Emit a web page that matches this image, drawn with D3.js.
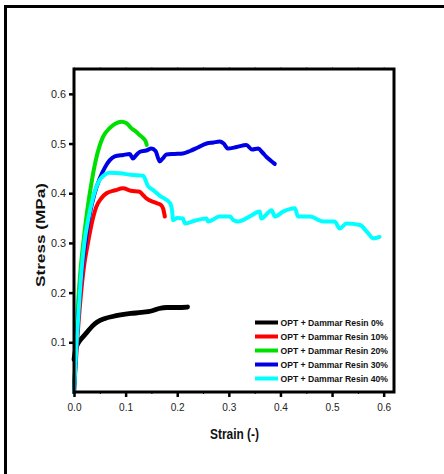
<!DOCTYPE html>
<html>
<head>
<meta charset="utf-8">
<script src="https://cdn.jsdelivr.net/npm/d3@7"></script>
<style>
  body { margin: 0; background: #fff; }
  svg { display: block; }
</style>
</head>
<body>
<div id="chart"></div>
<script>
// series names (legend order)
var seriesNames = ["OPT + Dammar Resin 0%", "OPT + Dammar Resin 10%", "OPT + Dammar Resin 20%",
  "OPT + Dammar Resin 30%", "OPT + Dammar Resin 40%"];
var seriesColors = ["#000000", "#ff0000", "#00e000", "#0000e6", "#00ffff"];

// [strain, stress] pairs
var resin0 = [[0, 0.065], [0.003, 0.085], [0.008, 0.098], [0.015, 0.108], [0.025, 0.12], [0.035, 0.132],
  [0.045, 0.141], [0.06, 0.148], [0.075, 0.152], [0.09, 0.155], [0.11, 0.158], [0.13, 0.16],
  [0.15, 0.163], [0.165, 0.168], [0.18, 0.17], [0.2, 0.17], [0.22, 0.171]];
var resin10 = [[0, 0], [0.006, 0.1], [0.012, 0.18], [0.019, 0.25], [0.027, 0.3], [0.035, 0.342],
  [0.043, 0.372], [0.053, 0.39], [0.063, 0.4], [0.08, 0.406], [0.095, 0.41], [0.11, 0.405],
  [0.127, 0.403], [0.135, 0.395], [0.14, 0.39], [0.155, 0.382], [0.16, 0.38], [0.169, 0.376],
  [0.173, 0.368], [0.176, 0.353]];
var resin20 = [[0, 0], [0.004, 0.1], [0.008, 0.18], [0.013, 0.25], [0.018, 0.3], [0.025, 0.36],
  [0.034, 0.422], [0.043, 0.47], [0.056, 0.513], [0.069, 0.531], [0.08, 0.54], [0.092, 0.544],
  [0.102, 0.541], [0.111, 0.531], [0.12, 0.524], [0.127, 0.517], [0.134, 0.511], [0.139, 0.504],
  [0.141, 0.497]];
var resin30 = [[0, 0], [0.005, 0.1], [0.01, 0.18], [0.016, 0.25], [0.022, 0.3], [0.03, 0.355],
  [0.04, 0.4], [0.05, 0.43], [0.06, 0.452], [0.069, 0.466], [0.079, 0.474], [0.095, 0.477],
  [0.108, 0.479], [0.114, 0.47], [0.12, 0.476], [0.127, 0.483], [0.14, 0.486], [0.15, 0.49],
  [0.158, 0.485], [0.166, 0.464], [0.172, 0.47], [0.179, 0.478], [0.195, 0.479], [0.211, 0.48],
  [0.225, 0.485], [0.24, 0.492], [0.257, 0.5], [0.27, 0.502], [0.282, 0.504], [0.29, 0.5],
  [0.298, 0.49], [0.315, 0.493], [0.334, 0.497], [0.345, 0.488], [0.357, 0.49], [0.365, 0.482],
  [0.373, 0.473], [0.382, 0.465], [0.389, 0.459]];
var resin40 = [[0, 0], [0.005, 0.1], [0.01, 0.18], [0.015, 0.25], [0.02, 0.3], [0.028, 0.35],
  [0.036, 0.388], [0.043, 0.412], [0.05, 0.427], [0.058, 0.436], [0.069, 0.441], [0.09, 0.44],
  [0.11, 0.437], [0.134, 0.435], [0.143, 0.415], [0.155, 0.405], [0.166, 0.395], [0.186, 0.38],
  [0.19, 0.365], [0.192, 0.346], [0.2, 0.35], [0.211, 0.349], [0.215, 0.339], [0.235, 0.345],
  [0.257, 0.349], [0.26, 0.343], [0.282, 0.353], [0.302, 0.353], [0.31, 0.345], [0.318, 0.343],
  [0.34, 0.353], [0.36, 0.363], [0.363, 0.349], [0.383, 0.366], [0.389, 0.353], [0.405, 0.363],
  [0.428, 0.37], [0.434, 0.353], [0.457, 0.353], [0.483, 0.343], [0.505, 0.343], [0.515, 0.329],
  [0.528, 0.339], [0.554, 0.336], [0.568, 0.322], [0.58, 0.309], [0.592, 0.312]];
var allSeries = [resin0, resin10, resin20, resin30, resin40];

var xTicks = [0, 0.1, 0.2, 0.3, 0.4, 0.5, 0.6];
var yTicks = [0.1, 0.2, 0.3, 0.4, 0.5, 0.6];
var minorTicks = [0.05, 0.15, 0.25, 0.35, 0.45, 0.55];

var W = 444, H = 474;
var plotL = 74, plotR = 394, plotT = 69, plotB = 392;

var svg = d3.select("#chart").append("svg")
  .attr("width", W)
  .attr("height", H);

// outer frame (only top and left visible)
svg.append("rect")
  .attr("x", 5.5).attr("y", 6.5)
  .attr("width", 480).attr("height", 500)
  .attr("fill", "none")
  .attr("stroke", "#000")
  .attr("stroke-width", 3);

var x = d3.scaleLinear().domain([0, 0.62]).range([plotL, plotR]);
var y = d3.scaleLinear().domain([0, 0.65]).range([plotB, plotT]);

var font = "'Liberation Sans', Arial, sans-serif";

// curves
var line = d3.line()
  .x(function(d) { return x(d[0]); })
  .y(function(d) { return y(d[1]); })
  .curve(d3.curveMonotoneX);

allSeries.forEach(function(s, i) {
  svg.append("path")
    .datum(s)
    .attr("d", line)
    .attr("fill", "none")
    .attr("stroke", seriesColors[i])
    .attr("stroke-width", i == 0 ? 4.8 : 4)
    .attr("stroke-linejoin", "round")
    .attr("stroke-linecap", "round");
});

// x axis
var xAxis = svg.append("g")
  .attr("transform", "translate(0," + plotB + ")")
  .call(d3.axisBottom(x).tickValues(xTicks).tickFormat(d3.format(".1f")).tickSize(5).tickPadding(6));
xAxis.select(".domain").remove();
xAxis.selectAll(".tick line").attr("stroke-width", 2.5);
xAxis.selectAll("text")
  .attr("font-family", font).attr("font-size", 11.5).attr("fill", "#222")
  .attr("textLength", 14).attr("lengthAdjust", "spacingAndGlyphs");

svg.append("g")
  .attr("transform", "translate(0," + plotB + ")")
  .call(d3.axisBottom(x).tickValues(minorTicks).tickFormat("").tickSize(2))
  .call(function(g) { g.select(".domain").remove(); });
svg.append("g")
  .attr("transform", "translate(0," + plotT + ")")
  .call(d3.axisTop(x).tickValues(minorTicks.concat(xTicks)).tickFormat("").tickSize(2))
  .call(function(g) { g.select(".domain").remove(); g.selectAll("line").attr("stroke", "#888"); });

// y axis
var yAxis = svg.append("g")
  .attr("transform", "translate(" + plotL + ",0)")
  .call(d3.axisLeft(y).tickValues(yTicks).tickFormat(d3.format(".1f")).tickSize(5).tickPadding(3));
yAxis.select(".domain").remove();
yAxis.selectAll(".tick line").attr("stroke-width", 2.5);
yAxis.selectAll("text")
  .attr("font-family", font).attr("font-size", 11.5).attr("fill", "#222")
  .attr("textLength", 15).attr("lengthAdjust", "spacingAndGlyphs");

// plot frame
svg.append("rect")
  .attr("x", plotL).attr("y", plotT)
  .attr("width", plotR - plotL).attr("height", plotB - plotT)
  .attr("fill", "none")
  .attr("stroke", "#000")
  .attr("stroke-width", 3);

// axis titles
svg.append("text")
  .attr("x", 234.5)
  .attr("y", 439)
  .attr("text-anchor", "middle")
  .attr("font-family", font)
  .attr("font-weight", "bold")
  .attr("font-size", 14)
  .attr("fill", "#111")
  .attr("textLength", 49).attr("lengthAdjust", "spacingAndGlyphs")
  .text("Strain (-)");

svg.append("text")
  .attr("transform", "translate(44.5,235) rotate(-90)")
  .attr("text-anchor", "middle")
  .attr("font-family", font)
  .attr("font-weight", "bold")
  .attr("font-size", 13)
  .attr("fill", "#111")
  .attr("textLength", 104).attr("lengthAdjust", "spacingAndGlyphs")
  .text("Stress (MPa)");

// legend
var legend = svg.append("g");
seriesNames.forEach(function(name, i) {
  var ly = 322.5 + i * 14;
  legend.append("line")
    .attr("x1", 255).attr("x2", 278)
    .attr("y1", ly).attr("y2", ly)
    .attr("stroke", seriesColors[i])
    .attr("stroke-width", 4);
  legend.append("text")
    .attr("x", 280.5)
    .attr("y", ly + 3.5)
    .attr("font-family", font)
    .attr("font-weight", "bold")
    .attr("font-size", 9.5)
    .attr("fill", "#111")
    .attr("textLength", i == 0 ? 103 : 107.5).attr("lengthAdjust", "spacingAndGlyphs")
    .text(name);
});
</script>
</body>
</html>
